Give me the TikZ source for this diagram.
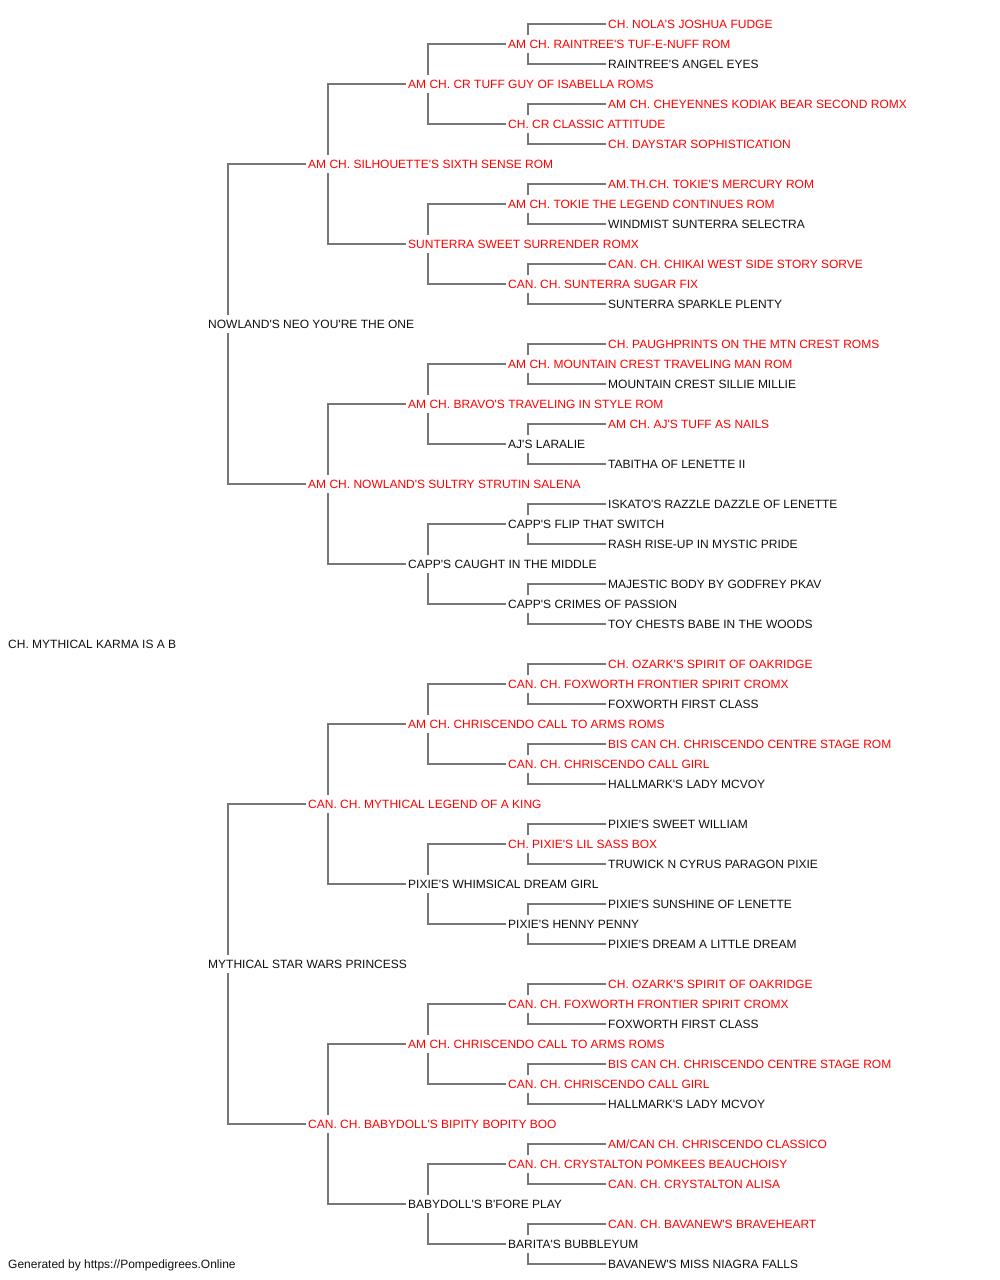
\documentclass[tikz,border=0pt]{standalone}
\usepackage{fontspec}
\newfontfamily\pfont{Liberation Sans}
\usetikzlibrary{backgrounds}
\definecolor{linegray}{HTML}{777777}
\definecolor{namered}{HTML}{FF0000}
\definecolor{nameblack}{HTML}{111111}
\tikzset{
  pn/.style={anchor=west, fill=white, inner xsep=2pt, inner ysep=5pt,
             text height=8.6pt, text depth=0pt, font=\pfont\fontsize{12}{14}\selectfont},
  rd/.style={pn, text=namered},
  bk/.style={pn, text=nameblack},
  conn/.style={draw=linegray, line width=1.3pt}
}
\begin{document}
\begin{tikzpicture}[x=1pt,y=-1pt]
\useasboundingbox (0,0) rectangle (1000,1280);
% root
\node[bk] (A) at (6,644) {CH. MYTHICAL KARMA IS A B};
% generation 1
\node[bk] (B1) at (206,324) {NOWLAND'S NEO YOU'RE THE ONE};
\node[bk] (B2) at (206,964) {MYTHICAL STAR WARS PRINCESS};
% generation 2
\node[rd] (C1) at (306,164) {AM CH. SILHOUETTE'S SIXTH SENSE ROM};
\node[rd] (C2) at (306,484) {AM CH. NOWLAND'S SULTRY STRUTIN SALENA};
\node[rd] (C3) at (306,804) {CAN. CH. MYTHICAL LEGEND OF A KING};
\node[rd] (C4) at (306,1124) {CAN. CH. BABYDOLL'S BIPITY BOPITY BOO};
% generation 3
\node[rd] (D1) at (406,84) {AM CH. CR TUFF GUY OF ISABELLA ROMS};
\node[rd] (D2) at (406,244) {SUNTERRA SWEET SURRENDER ROMX};
\node[rd] (D3) at (406,404) {AM CH. BRAVO'S TRAVELING IN STYLE ROM};
\node[bk] (D4) at (406,564) {CAPP'S CAUGHT IN THE MIDDLE};
\node[rd] (D5) at (406,724) {AM CH. CHRISCENDO CALL TO ARMS ROMS};
\node[bk] (D6) at (406,884) {PIXIE'S WHIMSICAL DREAM GIRL};
\node[rd] (D7) at (406,1044) {AM CH. CHRISCENDO CALL TO ARMS ROMS};
\node[bk] (D8) at (406,1204) {BABYDOLL'S B'FORE PLAY};
% generation 4
\node[rd] (E1) at (506,44) {AM CH. RAINTREE'S TUF-E-NUFF ROM};
\node[rd] (E2) at (506,124) {CH. CR CLASSIC ATTITUDE};
\node[rd] (E3) at (506,204) {AM CH. TOKIE THE LEGEND CONTINUES ROM};
\node[rd] (E4) at (506,284) {CAN. CH. SUNTERRA SUGAR FIX};
\node[rd] (E5) at (506,364) {AM CH. MOUNTAIN CREST TRAVELING MAN ROM};
\node[bk] (E6) at (506,444) {AJ'S LARALIE};
\node[bk] (E7) at (506,524) {CAPP'S FLIP THAT SWITCH};
\node[bk] (E8) at (506,604) {CAPP'S CRIMES OF PASSION};
\node[rd] (E9) at (506,684) {CAN. CH. FOXWORTH FRONTIER SPIRIT CROMX};
\node[rd] (E10) at (506,764) {CAN. CH. CHRISCENDO CALL GIRL};
\node[rd] (E11) at (506,844) {CH. PIXIE'S LIL SASS BOX};
\node[bk] (E12) at (506,924) {PIXIE'S HENNY PENNY};
\node[rd] (E13) at (506,1004) {CAN. CH. FOXWORTH FRONTIER SPIRIT CROMX};
\node[rd] (E14) at (506,1084) {CAN. CH. CHRISCENDO CALL GIRL};
\node[rd] (E15) at (506,1164) {CAN. CH. CRYSTALTON POMKEES BEAUCHOISY};
\node[bk] (E16) at (506,1244) {BARITA'S BUBBLEYUM};
% generation 5
\node[rd] (F1) at (606,24) {CH. NOLA'S JOSHUA FUDGE};
\node[bk] (F2) at (606,64) {RAINTREE'S ANGEL EYES};
\node[rd] (F3) at (606,104) {AM CH. CHEYENNES KODIAK BEAR SECOND ROMX};
\node[rd] (F4) at (606,144) {CH. DAYSTAR SOPHISTICATION};
\node[rd] (F5) at (606,184) {AM.TH.CH. TOKIE'S MERCURY ROM};
\node[bk] (F6) at (606,224) {WINDMIST SUNTERRA SELECTRA};
\node[rd] (F7) at (606,264) {CAN. CH. CHIKAI WEST SIDE STORY SORVE};
\node[bk] (F8) at (606,304) {SUNTERRA SPARKLE PLENTY};
\node[rd] (F9) at (606,344) {CH. PAUGHPRINTS ON THE MTN CREST ROMS};
\node[bk] (F10) at (606,384) {MOUNTAIN CREST SILLIE MILLIE};
\node[rd] (F11) at (606,424) {AM CH. AJ'S TUFF AS NAILS};
\node[bk] (F12) at (606,464) {TABITHA OF LENETTE II};
\node[bk] (F13) at (606,504) {ISKATO'S RAZZLE DAZZLE OF LENETTE};
\node[bk] (F14) at (606,544) {RASH RISE-UP IN MYSTIC PRIDE};
\node[bk] (F15) at (606,584) {MAJESTIC BODY BY GODFREY PKAV};
\node[bk] (F16) at (606,624) {TOY CHESTS BABE IN THE WOODS};
\node[rd] (F17) at (606,664) {CH. OZARK'S SPIRIT OF OAKRIDGE};
\node[bk] (F18) at (606,704) {FOXWORTH FIRST CLASS};
\node[rd] (F19) at (606,744) {BIS CAN CH. CHRISCENDO CENTRE STAGE ROM};
\node[bk] (F20) at (606,784) {HALLMARK'S LADY MCVOY};
\node[bk] (F21) at (606,824) {PIXIE'S SWEET WILLIAM};
\node[bk] (F22) at (606,864) {TRUWICK N CYRUS PARAGON PIXIE};
\node[bk] (F23) at (606,904) {PIXIE'S SUNSHINE OF LENETTE};
\node[bk] (F24) at (606,944) {PIXIE'S DREAM A LITTLE DREAM};
\node[rd] (F25) at (606,984) {CH. OZARK'S SPIRIT OF OAKRIDGE};
\node[bk] (F26) at (606,1024) {FOXWORTH FIRST CLASS};
\node[rd] (F27) at (606,1064) {BIS CAN CH. CHRISCENDO CENTRE STAGE ROM};
\node[bk] (F28) at (606,1104) {HALLMARK'S LADY MCVOY};
\node[rd] (F29) at (606,1144) {AM/CAN CH. CHRISCENDO CLASSICO};
\node[rd] (F30) at (606,1184) {CAN. CH. CRYSTALTON ALISA};
\node[rd] (F31) at (606,1224) {CAN. CH. BAVANEW'S BRAVEHEART};
\node[bk] (F32) at (606,1264) {BAVANEW'S MISS NIAGRA FALLS};
% footer
\node[anchor=base west, inner sep=0pt, text=nameblack, font=\pfont\fontsize{12}{14}\selectfont]
  (foot) at (8,1268.3) {Generated by https://Pompedigrees.Online};
% connectors
\begin{pgfonlayer}{background}
\draw[conn] (C1.west) -| ([xshift=22pt]B1.west) |- (C2.west);
\draw[conn] (C3.west) -| ([xshift=22pt]B2.west) |- (C4.west);
\foreach \i in {1,...,4}{
  \pgfmathtruncatemacro{\a}{2*\i-1}
  \pgfmathtruncatemacro{\b}{2*\i}
  \draw[conn] (D\a.west) -| ([xshift=22pt]C\i.west) |- (D\b.west);
}
\foreach \i in {1,...,8}{
  \pgfmathtruncatemacro{\a}{2*\i-1}
  \pgfmathtruncatemacro{\b}{2*\i}
  \draw[conn] (E\a.west) -| ([xshift=22pt]D\i.west) |- (E\b.west);
}
\foreach \i in {1,...,16}{
  \pgfmathtruncatemacro{\a}{2*\i-1}
  \pgfmathtruncatemacro{\b}{2*\i}
  \draw[conn] (F\a.west) -| ([xshift=22pt]E\i.west) |- (F\b.west);
}
\end{pgfonlayer}
\end{tikzpicture}
\end{document}
